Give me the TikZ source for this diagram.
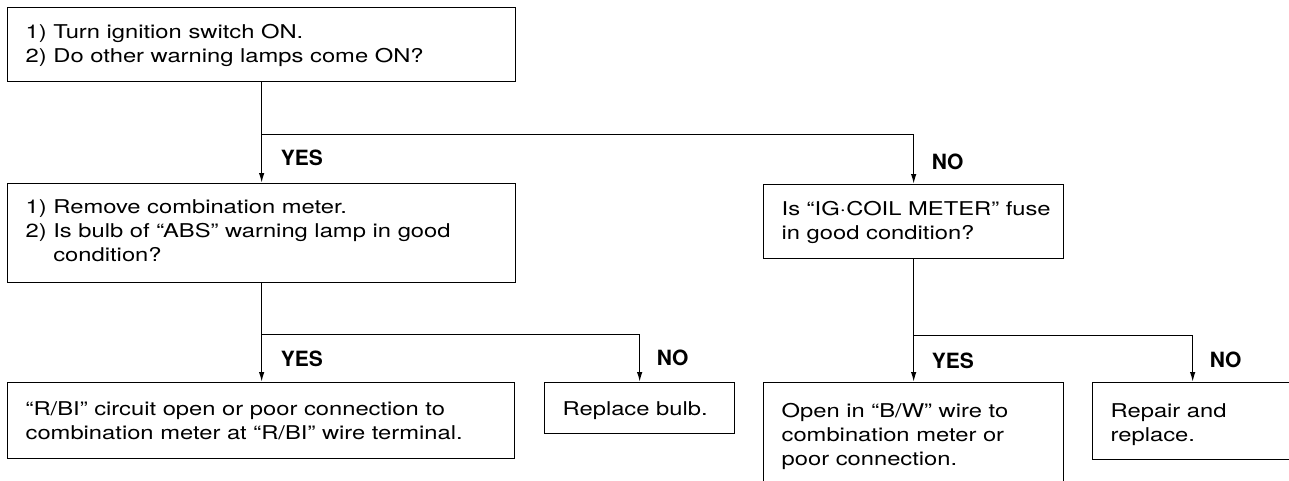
\documentclass[tikz,border=0pt]{standalone}
\usepackage{fontspec}
\setmainfont{TeX Gyre Heros}
\newfontfamily\bodyfont[FakeStretch=1.25]{TeX Gyre Heros}
\usetikzlibrary{arrows.meta,calc}

% fixed-size cell: width, height, space above the first line, content
\newcommand{\cell}[4]{\parbox[c][#2][t]{#1}{\vspace*{#3}#4}}
% numbered steps with a hanging indent
\newcommand{\steps}[1]{\begin{tabular}[t]{@{}l@{\ }l@{}}#1\end{tabular}}
% plain lines
\newcommand{\lines}[1]{\begin{tabular}[t]{@{}l@{}}#1\end{tabular}}

\begin{document}
\begin{tikzpicture}[x=1pt,y=-1pt,
  box/.style={draw, line width=1.3pt, anchor=north west, inner xsep=18pt, inner ysep=0pt,
    font=\bodyfont\fontsize{19pt}{24pt}\selectfont},
  arr/.style={line width=1.3pt, -{Latex[length=10pt,width=5.5pt]}},
  link/.style={line width=1.3pt},
  answer/.style={anchor=west, inner sep=0pt, font=\bfseries\fontsize{21pt}{24pt}\selectfont}]
\useasboundingbox (0,0) rectangle (1289,480);

% questions
\node[box] (q1) at (7,7) {\cell{472pt}{74pt}{14pt}{\steps{1) & Turn ignition switch ON.\\ 2) & Do other warning lamps come ON?}}};
\node[box] (q2) at (7,183) {\cell{472pt}{99pt}{13pt}{\steps{1) & Remove combination meter.\\ 2) & Is bulb of “ABS” warning lamp in good\\ & condition?}}};
\node[box] (q3) at (763,184) {\cell{264pt}{74pt}{14pt}{\lines{Is “IG·COIL METER” fuse\\ in good condition?}}};

% results
\node[box] (r1) at (7,382) {\cell{471pt}{76pt}{16pt}{\lines{“R/BI” circuit open or poor connection to\\ combination meter at “R/BI” wire terminal.}}};
\node[box] (r2) at (544,382) {\cell{154pt}{51pt}{16pt}{\lines{Replace bulb.}}};
\node[box] (r3) at (763,382) {\cell{264pt}{104pt}{18pt}{\lines{Open in “B/W” wire to\\ combination meter or\\ poor connection.}}};
\node[box] (r4) at (1092,382) {\cell{164pt}{77pt}{18pt}{\lines{Repair and\\ replace.}}};

% branch points
\coordinate (j1) at ($(q1.south)+(0,52)$);
\coordinate (j2) at ($(q2.south)+(0,51)$);
\coordinate (j3) at ($(q3.south)+(0,76)$);

\draw[link] (q1.south) -- (j1);
\draw[arr] (j1) -- (q2.north);
\draw[arr] (j1) -| (q3.north);

\draw[link] (q2.south) -- (j2);
\draw[arr] (j2) -- (q2.south |- r1.north);
\draw[arr] (j2) -| (r2.north);

\draw[link] (q3.south) -- (j3);
\draw[arr] (j3) -- (r3.north);
\draw[arr] (j3) -| (r4.north);

% answers
\node[answer] (y1) at ($(q2.north)+(19,-25)$) {YES};
\node[answer] (n1) at ($(q3.north)+(18,-22.5)$) {NO};
\node[answer] (y2) at ($(q2.south |- r1.north)+(19,-23)$) {YES};
\node[answer] (n2) at ($(r2.north)+(17,-24)$) {NO};
\node[answer] (y3) at ($(r3.north)+(18,-21)$) {YES};
\node[answer] (n3) at ($(r4.north)+(17,-22.5)$) {NO};
\end{tikzpicture}
\end{document}
